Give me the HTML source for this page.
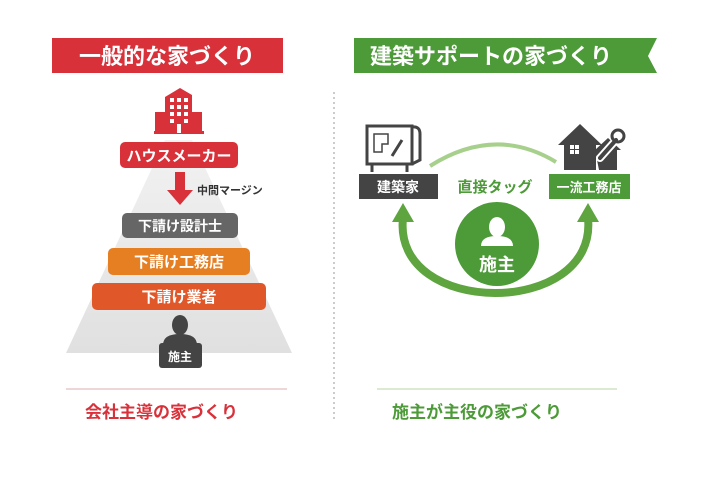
<!DOCTYPE html>
<html><head><meta charset="utf-8"><style>
html,body{margin:0;padding:0;background:#fff;}
body{width:710px;height:473px;overflow:hidden;}
svg text{font-family:"Liberation Sans","Noto Sans CJK JP",sans-serif;font-weight:bold;}
</style></head><body>
<svg width="710" height="473" viewBox="0 0 710 473" xmlns="http://www.w3.org/2000/svg">
<defs>
<linearGradient id="pyr" x1="0" y1="0" x2="0" y2="1"><stop offset="0" stop-color="#f2f2f2"/><stop offset="1" stop-color="#e0e0e0"/></linearGradient>
</defs>
<rect x="52" y="38" width="231" height="35" fill="#d8313a"/>
<text x="167" y="64" font-size="22" fill="#fff" text-anchor="middle">一般的な家づくり</text>
<polygon points="165,140 192,140 292,353 66,353" fill="url(#pyr)"/>
<g fill="#d8313a">
<polygon points="165,97 180,88 192,95 192,133 165,133"/>
<rect x="155" y="112" width="12" height="21"/>
<rect x="190" y="112" width="12" height="21"/>
<rect x="154" y="131" width="50" height="3"/>
</g>
<g fill="#fff">
<rect x="170" y="98" width="4" height="4"/><rect x="177" y="98" width="4" height="4"/><rect x="184" y="98" width="4" height="4"/>
<rect x="170" y="105" width="4" height="4"/><rect x="177" y="105" width="4" height="4"/><rect x="184" y="105" width="4" height="4"/>
<rect x="170" y="112" width="4" height="4"/><rect x="177" y="112" width="4" height="4"/><rect x="184" y="112" width="4" height="4"/>
<rect x="170" y="119" width="4" height="4"/><rect x="184" y="119" width="4" height="4"/>
<rect x="177" y="124" width="4" height="9"/>
</g>
<rect x="120" y="142" width="118" height="26" rx="5" fill="#d8313a"/>
<text x="179" y="161" font-size="15" fill="#fff" text-anchor="middle">ハウスメーカー</text>
<polygon points="175,172 185,172 185,190 193,190 180,205 167,190 175,190" fill="#d8313a"/>
<text x="197" y="194" font-size="11" fill="#333">中間マージン</text>
<rect x="122" y="213" width="116" height="25" rx="5" fill="#666"/>
<text x="180" y="231" font-size="14" fill="#fff" text-anchor="middle">下請け設計士</text>
<rect x="108" y="248" width="142" height="27" rx="5" fill="#e67e22"/>
<text x="179" y="267" font-size="15" fill="#fff" text-anchor="middle">下請け工務店</text>
<rect x="92" y="283" width="174" height="27" rx="5" fill="#e0582a"/>
<text x="179" y="302" font-size="15" fill="#fff" text-anchor="middle">下請け業者</text>
<g fill="#444">
<ellipse cx="180" cy="325" rx="8" ry="10"/>
<path d="M163,345 Q163,334 180,334 Q197,334 197,345 Z"/>
<rect x="159" y="343" width="43" height="25" rx="3"/>
</g>
<text x="180" y="361" font-size="12" fill="#fff" text-anchor="middle">施主</text>
<line x1="66" y1="389" x2="287" y2="389" stroke="#e8c8cc" stroke-width="1.5"/>
<text x="85" y="418" font-size="17" fill="#d8313a">会社主導の家づくり</text>
<line x1="334" y1="92" x2="334" y2="420" stroke="#bbb" stroke-width="1.5" stroke-dasharray="2,3"/>
<polygon points="354,38 657,38 648,56 657,73 354,73" fill="#4c9a38"/>
<text x="370" y="64" font-size="22" fill="#fff">建築サポートの家づくり</text>
<g fill="none" stroke="#444" stroke-width="3">
<rect x="367" y="126" width="45" height="38"/>
<path d="M412,127 Q420,126 420,134 L420,160 L412,164"/>
<line x1="372" y1="164" x2="372" y2="172"/><line x1="407" y1="164" x2="407" y2="172"/>
</g>
<g fill="none" stroke="#444" stroke-width="1.5">
<path d="M374,134 h14 v10 h-6 v8 h-8 z"/><line x1="402" y1="140" x2="392" y2="156" stroke-width="3"/>
</g>
<rect x="359" y="174" width="79" height="25" fill="#444"/>
<text x="398" y="192" font-size="14" fill="#fff" text-anchor="middle">建築家</text>
<g fill="#444">
<polygon points="558,145 580,124 602,145 596,145 596,170 564,170 564,145"/>
<polygon points="595,150 608,138 621,150 617,150 617,170 599,170"/>
</g>
<rect x="570" y="145" width="9" height="9" fill="#fff"/>
<line x1="574.5" y1="145" x2="574.5" y2="154" stroke="#444"/><line x1="570" y1="149.5" x2="579" y2="149.5" stroke="#444"/>
<path d="M600,158 L616,140" stroke="#fff" stroke-width="8" stroke-linecap="round"/>
<path d="M600,158 L616,140" stroke="#444" stroke-width="4" stroke-linecap="round"/>
<circle cx="618" cy="136" r="6" fill="none" stroke="#444" stroke-width="3"/>
<rect x="549" y="174" width="81" height="25" fill="#4c9a38"/>
<text x="589" y="192" font-size="13" fill="#fff" text-anchor="middle">一流工務店</text>
<path d="M430,166 Q495,125 556,162" fill="none" stroke="#a8d08d" stroke-width="4"/>
<text x="495" y="192" font-size="15" fill="#4c9a38" text-anchor="middle">直接タッグ</text>
<path d="M403,218 C392,318 598,318 588,218" fill="none" stroke="#5ea43f" stroke-width="8"/>
<polygon points="403,203 392,222 414,222" fill="#5ea43f"/>
<polygon points="588,203 577,222 599,222" fill="#5ea43f"/>
<circle cx="497" cy="244" r="42" fill="#4c9a38"/>
<ellipse cx="497" cy="227" rx="8" ry="10" fill="#fff"/>
<path d="M481,246 Q481,236 497,236 Q513,236 513,246 Z" fill="#fff"/>
<text x="497" y="271" font-size="18" fill="#fff" text-anchor="middle">施主</text>
<line x1="377" y1="389" x2="617" y2="389" stroke="#cfe3c2" stroke-width="1.5"/>
<text x="392" y="418" font-size="17" fill="#4c9a38">施主が主役の家づくり</text>
</svg>
</body></html>
